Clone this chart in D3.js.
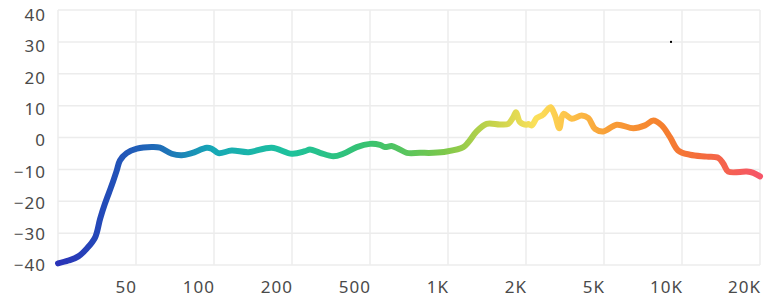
<!DOCTYPE html>
<html>
<head>
<meta charset="utf-8">
<script src="https://cdn.jsdelivr.net/npm/d3@7"></script>
<style>
  html, body { margin: 0; padding: 0; background: #ffffff; }
  svg { display: block; }
  text { font-family: "Noto Sans", "Open Sans", sans-serif; fill: #4a4a4a; }
</style>
</head>
<body>
<svg id="chart" width="765" height="301"></svg>
<script>
// ---- data (frequency in Hz, level in dB) ----
const freqs = [20, 22.6, 25.4, 28, 30.9, 32.8, 34.7, 37.6, 39.9, 41.4, 44.8, 50.4,
  57.5, 61.9, 68.7, 75, 82, 93.7, 98, 104, 117, 136, 167, 200, 233, 247, 278, 325,
  365, 428, 500, 546, 571, 606, 643, 693, 780, 878, 988, 1146, 1198, 1290, 1410,
  1587, 1709, 1787, 1830, 1897, 2014, 2055, 2138, 2268, 2405, 2451, 2600, 2673,
  2812, 2958, 3100, 3422, 3849, 4158, 4498, 4959, 5598, 6488, 7198, 7749, 8350,
  8990, 9676, 10736, 12454, 13807, 14434, 15090, 17772, 18845, 20000];
const levels = [-39.5, -38.6, -37.3, -34.9, -31.4, -25.5, -20.8, -15.0, -10.3, -7.2, -4.9, -3.5,
  -3.0, -3.2, -5.1, -5.6, -4.9, -3.2, -3.5, -4.9, -4.1, -4.6, -3.2, -5.1, -4.3, -3.8, -4.8, -5.9,
  -5.1, -3.0, -2.0, -2.3, -3.0, -2.7, -3.5, -4.8, -4.8, -4.8, -4.4, -3.0, -1.5, 1.9, 4.3,
  4.1, 4.3, 6.4, 7.9, 4.8, 4.0, 4.2, 3.8, 6.1, 6.9, 7.2, 9.0, 9.5,
  6.9, 2.9, 7.4, 5.9, 6.9, 6.1, 2.7, 1.9, 4.0, 2.9, 3.8, 5.3, 3.8,
  0.1, -4.1, -5.4, -6.0, -6.4, -8.2, -10.7, -10.7, -11.1, -12.2];

const axisFreqs = [20, 50, 100, 200, 500, 1000, 2000, 5000, 10000, 20000];
const tickFreqs = [50, 100, 200, 500, 1000, 2000, 5000, 10000, 20000];
const tickLabels = ["50", "100", "200", "500", "1K", "2K", "5K", "10K", "20K"];
const yTicks = [40, 30, 20, 10, 0, -10, -20, -30, -40];
const markerPoint = [9070, 30];

const gradientStops = [
  [0.00, "#2a33b8"], [0.08, "#2250b8"], [0.15, "#1f70b8"], [0.22, "#17a8b6"],
  [0.33, "#1ec29c"], [0.44, "#37c270"], [0.55, "#7cc84b"], [0.62, "#c6d34b"],
  [0.68, "#fbe05a"], [0.72, "#fdc74c"], [0.78, "#f8a038"], [0.86, "#f5802e"],
  [0.92, "#f46b3e"], [1.00, "#f65568"]
];

// ---- layout ----
const plotLeft = 58, plotRight = 760, plotTop = 10, plotBottom = 265;
const step = (plotRight - plotLeft) / (axisFreqs.length - 1);

const x = d3.scaleLog()
  .domain(axisFreqs)
  .range(axisFreqs.map((d, i) => plotLeft + i * step));
const y = d3.scaleLinear().domain([-40, 40]).range([plotBottom, plotTop]);
const yLabel = d3.scaleLinear().domain([-40, 40]).range([265.5, 15]);

const svg = d3.select("#chart");

// gradient
const defs = svg.append("defs");
const grad = defs.append("linearGradient")
  .attr("id", "lineGrad")
  .attr("gradientUnits", "userSpaceOnUse")
  .attr("x1", plotLeft).attr("x2", plotRight).attr("y1", 0).attr("y2", 0);
grad.selectAll("stop").data(gradientStops).join("stop")
  .attr("offset", d => d[0]).attr("stop-color", d => d[1]);

// grid
const grid = svg.append("g").attr("stroke", "#ececec").attr("stroke-width", 1.5);
grid.selectAll("line.h").data(yTicks).join("line")
  .attr("class", "h")
  .attr("x1", plotLeft).attr("x2", plotRight)
  .attr("y1", d => y(d)).attr("y2", d => y(d));
grid.selectAll("line.v").data(axisFreqs).join("line")
  .attr("class", "v")
  .attr("x1", d => x(d)).attr("x2", d => x(d))
  .attr("y1", plotTop).attr("y2", plotBottom);

// y labels
svg.append("g").selectAll("text").data(yTicks).join("text")
  .attr("x", 46)
  .attr("y", d => yLabel(d))
  .attr("dy", "0.35em")
  .attr("text-anchor", "end")
  .attr("font-size", 17)
  .attr("letter-spacing", 1)
  .text(d => d < 0 ? "\u2212" + Math.abs(d) : String(d));

// x labels
svg.append("g").selectAll("text").data(tickFreqs).join("text")
  .attr("x", d => x(d) + 1)
  .attr("y", 287.5)
  .attr("dy", "0.35em")
  .attr("text-anchor", "end")
  .attr("font-size", 17)
  .attr("letter-spacing", 1)
  .text((d, i) => tickLabels[i]);

// curve
const data = freqs.map((f, i) => [f, levels[i]]);
const line = d3.line()
  .x(d => x(d[0]))
  .y(d => y(d[1]))
  .curve(d3.curveCatmullRom.alpha(0.5));
svg.append("path")
  .datum(data)
  .attr("d", line)
  .attr("fill", "none")
  .attr("stroke", "url(#lineGrad)")
  .attr("stroke-width", 6)
  .attr("stroke-linecap", "round")
  .attr("stroke-linejoin", "round");

// small marker dot
svg.append("rect")
  .attr("x", x(markerPoint[0]) - 1)
  .attr("y", y(markerPoint[1]) - 1)
  .attr("width", 2).attr("height", 2)
  .attr("fill", "#000");
</script>
</body>
</html>
